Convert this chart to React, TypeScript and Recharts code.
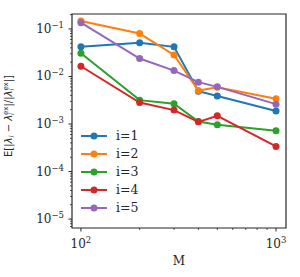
import React from 'react';
import { LineChart, Line, XAxis, YAxis, Legend, ReferenceArea } from 'recharts';

if (typeof document !== 'undefined') document.body.style.margin = '0';

const M_VALUES = [100, 200, 300, 400, 500, 1000];
const ERR_I1 = [0.042, 0.051, 0.042, 0.0049, 0.0039, 0.00187];
const ERR_I2 = [0.147, 0.08, 0.0284, 0.00506, 0.00596, 0.00339];
const ERR_I3 = [0.0308, 0.00318, 0.00266, 0.00113, 0.00096, 0.00072];
const ERR_I4 = [0.0164, 0.00283, 0.00196, 0.00111, 0.00149, 0.000337];
const ERR_I5 = [0.135, 0.0238, 0.0133, 0.0076, 0.00605, 0.00262];

const SERIES_NAMES = ['i=1', 'i=2', 'i=3', 'i=4', 'i=5'];
const SERIES_VALUES = [ERR_I1, ERR_I2, ERR_I3, ERR_I4, ERR_I5];
const COLORS = ['#1f77b4', '#ff7f0e', '#2ca02c', '#d62728', '#9467bd'];

const X_MAJOR = [100, 1000];
const X_MAJOR_LABELS = ['2', '3'];
const X_MINOR = [200, 300, 400, 500, 600, 700, 800, 900];
const Y_MAJOR = [1e-5, 1e-4, 1e-3, 1e-2, 1e-1];
const Y_MAJOR_LABELS = ['−5', '−4', '−3', '−2', '−1'];
const Y_MINOR: number[] = [];
[1e-6, 1e-5, 1e-4, 1e-3, 1e-2, 1e-1].forEach((d) => {
  for (let k = 2; k <= 9; k++) {
    const v = k * d;
    if (v > 6.5e-6 && v < 0.206) Y_MINOR.push(v);
  }
});

const X_DOMAIN = [90, 1125];
const Y_DOMAIN = [6.5e-6, 0.206];

const data = M_VALUES.map((m, idx) => {
  const row: any = { m };
  SERIES_VALUES.forEach((vals, s) => {
    row[`s${s}`] = vals[idx];
  });
  return row;
});

const SERIF = '"DejaVu Serif", serif';
const SANS = '"DejaVu Sans", sans-serif';
const INK = '#262626';

const isClose = (a: number, b: number) => Math.abs(Math.log10(a) - Math.log10(b)) < 1e-6;

const XTick = ({ x, y, payload }: any) => {
  const v = payload.value;
  const mi = X_MAJOR.findIndex((t) => isClose(t, v));
  const major = mi >= 0;
  return (
    <g>
      <line x1={x} x2={x} y1={y} y2={y + (major ? 3.5 : 2)} stroke={INK} strokeWidth={major ? 1 : 0.8} />
      {major && (
        <text x={x} y={y + 20} textAnchor="middle" fontFamily={SERIF} fontSize={12} fill={INK}>
          10<tspan fontSize={8.5} dy={-5}>{X_MAJOR_LABELS[mi]}</tspan>
        </text>
      )}
    </g>
  );
};

const YTick = ({ x, y, payload }: any) => {
  const v = payload.value;
  const mi = Y_MAJOR.findIndex((t) => isClose(t, v));
  const major = mi >= 0;
  return (
    <g>
      <line x1={x - (major ? 3.5 : 2)} x2={x} y1={y} y2={y} stroke={INK} strokeWidth={major ? 1 : 0.8} />
      {major && (
        <text x={x - 8} y={y + 4} textAnchor="end" fontFamily={SERIF} fontSize={12} fill={INK}>
          10<tspan fontSize={8.5} dy={-5}>{Y_MAJOR_LABELS[mi]}</tspan>
        </text>
      )}
    </g>
  );
};

const YLabel = () => {
  const cx = 12;
  const cy = 116;
  return (
    <text
      transform={`translate(${cx},${cy}) rotate(-90)`}
      x={0}
      y={0}
      textAnchor="middle"
      fontFamily={SANS}
      fontSize={10}
      fill={INK}
    >
      E[|<tspan fontStyle="italic">λ</tspan>
      <tspan fontStyle="italic" fontSize={7} dy={2}>i</tspan>
      <tspan dy={-2}> − </tspan>
      <tspan fontStyle="italic">λ</tspan>
      <tspan fontStyle="italic" fontSize={7} dy={2}>i</tspan>
      <tspan fontSize={7} dx={-2} dy={-6}>ex</tspan>
      <tspan dy={4}>|/|</tspan>
      <tspan fontStyle="italic">λ</tspan>
      <tspan fontStyle="italic" fontSize={7} dy={2}>i</tspan>
      <tspan fontSize={7} dx={-2} dy={-6}>ex</tspan>
      <tspan dy={4}>|]</tspan>
    </text>
  );
};

const LegendBox = () => (
  <div style={{ display: 'flex', flexDirection: 'column' }}>
    {SERIES_NAMES.map((name, i) => (
      <div key={name} style={{ display: 'flex', alignItems: 'center', height: 18 }}>
        <svg width={26} height={18} style={{ display: 'block' }}>
          <line x1={0} x2={26} y1={9} y2={9} stroke={COLORS[i]} strokeWidth={2} />
          <circle cx={13} cy={9} r={3.5} fill={COLORS[i]} />
        </svg>
        <span style={{ marginLeft: 9, fontFamily: SERIF, fontSize: 12.5, color: INK, lineHeight: '18px' }}>{name}</span>
      </div>
    ))}
  </div>
);

export default function App() {
  return (
    <div style={{ width: 300, height: 277, position: 'relative', background: '#fff' }}>
      <LineChart width={300} height={277} data={data} margin={{ top: 14, right: 14, bottom: 0, left: 0 }}>
        <XAxis
          dataKey="m"
          type="number"
          scale="log"
          domain={X_DOMAIN}
          allowDataOverflow
          ticks={[...X_MAJOR, ...X_MINOR]}
          interval={0}
          tick={<XTick />}
          tickLine={false}
          tickSize={0}
          tickMargin={0}
          axisLine={false}
          height={49}
          label={{ value: 'M', position: 'insideBottom', offset: 12, fontFamily: SERIF, fontSize: 12, fill: INK }}
        />
        <YAxis
          type="number"
          scale="log"
          domain={Y_DOMAIN}
          allowDataOverflow
          ticks={[...Y_MAJOR, ...Y_MINOR]}
          interval={0}
          tick={<YTick />}
          tickLine={false}
          tickSize={0}
          tickMargin={0}
          axisLine={false}
          width={72}
          label={{ content: () => <YLabel /> }}
        />
        <ReferenceArea
          x1={X_DOMAIN[0]}
          x2={X_DOMAIN[1]}
          y1={Y_DOMAIN[0]}
          y2={Y_DOMAIN[1]}
          ifOverflow="visible"
          fill="none"
          stroke={INK}
          strokeWidth={1.2}
        />
        {SERIES_NAMES.map((name, s) => (
          <Line
            key={name}
            dataKey={`s${s}`}
            name={name}
            stroke={COLORS[s]}
            strokeWidth={2}
            dot={{ r: 3.5, fill: COLORS[s], stroke: COLORS[s], strokeWidth: 0 }}
            activeDot={false}
            isAnimationActive={false}
          />
        ))}
        <Legend
          layout="vertical"
          align="center"
          verticalAlign="middle"
          content={() => <LegendBox />}
          wrapperStyle={{ left: 81, top: 127, width: 80, height: 92 }}
        />
      </LineChart>
    </div>
  );
}
